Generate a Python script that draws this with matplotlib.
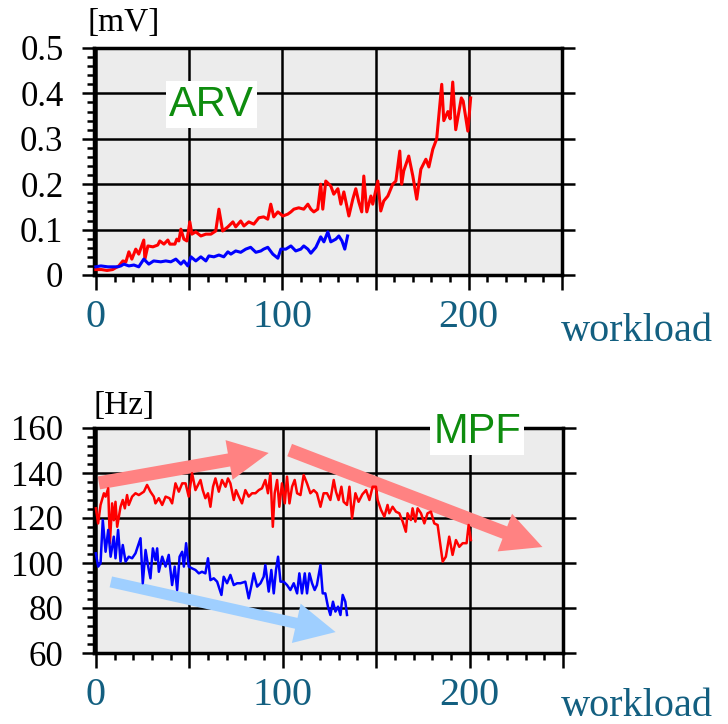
import matplotlib
matplotlib.use("Agg")
import matplotlib.pyplot as plt
from matplotlib.ticker import MultipleLocator, FuncFormatter

# ARV [mV] vs workload
arv_red_x = [0, 3, 6, 9, 12.3, 14.5, 16.1, 17.7, 19.3, 21.4, 23, 25.7, 26.3, 27.9, 30.6, 33.2,
             34.3, 36.5, 38.6, 39.7, 42.4, 43.4, 44.5, 45.6, 47.2, 48.8, 50.4, 51.5, 53.6, 56.3,
             59, 61.7, 64.3, 66, 68, 70.8, 73.5, 75, 77.7, 79.4, 82, 84.7, 87.4, 90, 92.2, 93.8,
             95.4, 97.6, 100.3, 102.9, 104.6, 106.2, 108.8, 111.5, 113.7, 115.3, 116.9, 119,
             120.6, 121.7, 123.3, 126, 127.6, 129.8, 131.4, 133, 135.7, 137.8, 139.4, 141,
             142.6, 143.7, 145.3, 147.5, 148.5, 151.2, 152.8, 154.4, 156.6, 159.2, 160.9, 163,
             164, 165.1, 167.8, 170, 172.1, 174.3, 177, 178.6, 180.7, 182.8, 185.5, 186.6,
             188.8, 190, 191.4, 193, 196, 197, 199.5, 201]
arv_red_y = [0.012, 0.012, 0.01, 0.012, 0.02, 0.031, 0.029, 0.051, 0.035, 0.057, 0.046, 0.077,
             0.035, 0.064, 0.062, 0.066, 0.075, 0.068, 0.077, 0.068, 0.068, 0.079, 0.075, 0.101,
             0.079, 0.075, 0.117, 0.09, 0.095, 0.086, 0.09, 0.09, 0.097, 0.145, 0.097, 0.106,
             0.117, 0.106, 0.119, 0.108, 0.117, 0.112, 0.126, 0.128, 0.123, 0.156, 0.128, 0.139,
             0.13, 0.134, 0.139, 0.145, 0.148, 0.145, 0.156, 0.145, 0.139, 0.145, 0.2, 0.145,
             0.207, 0.196, 0.178, 0.19, 0.156, 0.183, 0.13, 0.167, 0.19, 0.161, 0.139, 0.218,
             0.139, 0.174, 0.156, 0.207, 0.141, 0.163, 0.174, 0.2, 0.207, 0.273, 0.2, 0.229,
             0.262, 0.218, 0.167, 0.233, 0.255, 0.238, 0.277, 0.3, 0.42, 0.34, 0.36, 0.344,
             0.425, 0.32, 0.39, 0.383, 0.317, 0.39]
arv_blue_x = [0, 2.7, 6.4, 11.8, 13.4, 15, 17.7, 20.4, 23, 25.7, 28.4, 31, 34.8, 37.5, 40.2,
              42.9, 45.6, 47.2, 49.3, 51, 53.6, 56.3, 59, 60.6, 63.3, 66, 68.6, 70.8, 72.4, 75,
              77.7, 80.4, 83, 85.8, 88.5, 90, 92.2, 94.9, 97.6, 99.2, 101.9, 104.6, 107.2, 109.9,
              111.5, 113.7, 115.3, 118, 120.6, 122.3, 124.4, 126, 128.7, 130.3, 132, 133.5, 135]
arv_blue_y = [0.018, 0.02, 0.018, 0.018, 0.02, 0.024, 0.02, 0.022, 0.018, 0.035, 0.024, 0.031,
              0.029, 0.031, 0.029, 0.035, 0.024, 0.031, 0.02, 0.04, 0.031, 0.04, 0.031, 0.042,
              0.04, 0.044, 0.04, 0.051, 0.046, 0.053, 0.05, 0.057, 0.061, 0.05, 0.053, 0.057,
              0.061, 0.046, 0.037, 0.057, 0.057, 0.064, 0.053, 0.057, 0.064, 0.057, 0.048, 0.061,
              0.084, 0.073, 0.095, 0.073, 0.079, 0.086, 0.075, 0.057, 0.086]

# MPF [Hz] vs workload
mpf_red_x = [0, 1.2, 2.5, 4.3, 5.2, 6.6, 7.5, 8.7, 9.6, 10.5, 11.4, 13.2, 14.4, 15.5, 16.7, 17.6,
             19.4, 21.2, 23, 25.7, 27.4, 29.2, 31, 31.9, 33.7, 35.5, 37.3, 39.4, 40.8, 42.6, 44.4,
             46.2, 48, 49.7, 51.5, 53.3, 54.7, 56, 57.2, 58.6, 60, 61.3, 62.7, 64, 65.8, 67.5,
             69.4, 70.7, 72, 73.8, 75, 76.5, 78.2, 80, 81.8, 83.6, 85.4, 87.2, 88.9, 90.7, 92.1,
             93.4, 94.7, 95.7, 97, 98.2, 99.6, 101.1, 102.3, 103.6, 105, 106.4, 107.7, 109.5,
             111.2, 113, 114.8, 116.6, 118.3, 120.2, 121.9, 123.7, 125.5, 127.3, 128.5, 129.9,
             131.4, 132.6, 134.4, 135.7, 137.1, 138.9, 140.6, 142.6, 144.6, 146.4, 148.1, 149.9,
             150.8, 152.6, 154.4, 156.1, 157, 158.8, 160.6, 162.4, 164.2, 165.9, 166.8, 168.6,
             169.5, 171, 172.2, 174, 175.8, 177.5, 179.3, 181.1, 182.9, 185.6, 187.3, 189.1,
             190.9, 192.7, 194.5, 196.3, 198.4, 199.5, 200.7]
mpf_red_y = [124.3, 117.6, 125.8, 131, 129.5, 133.2, 108.8, 126.5, 119, 127.2, 116.1, 125, 128,
             124.3, 130.2, 125.8, 129.5, 131, 130.2, 131.7, 134.7, 131.7, 129.5, 126.5, 128.8,
             125.8, 129.5, 128.8, 126.5, 135.4, 131.7, 135.4, 135.4, 129.5, 139.9, 132.4, 134.7,
             136.9, 132.4, 128.8, 131, 125, 133.9, 137.6, 131.7, 136.9, 133.9, 137.6, 135.4, 128,
             132.4, 129.5, 126.5, 132.4, 129.5, 131, 131, 132.4, 133.2, 136.9, 131, 139.9, 116.1,
             131, 136.9, 125, 135.4, 126.5, 138.4, 126.5, 133.9, 136.9, 131, 130.2, 139.1, 135.4,
             131, 132.4, 131, 125, 131, 131, 128, 136.9, 131.7, 128, 133.9, 127.2, 125.8, 133.9,
             119.9, 131, 127.2, 130.5, 132.4, 128, 133.9, 133.9, 128, 123.6, 120.6, 125.8, 122.1,
             125, 122.8, 122.1, 118.4, 113.9, 122.1, 119.1, 124.3, 118.4, 124.3, 122.1, 117.6,
             122.1, 122.8, 117.6, 116.9, 100.6, 102.8, 111.7, 103.6, 110.2, 107.2, 108.8, 108.8,
             116.9, 110.2]
mpf_blue_x = [0, 1.2, 2.5, 3.7, 5.2, 6.6, 7.9, 9.6, 10.5, 11.9, 13.2, 14.4, 15.9, 17.6, 19.4,
              21.2, 23.9, 25.1, 26.6, 28, 29.2, 30.5, 31.9, 32.8, 33.7, 35.5, 37.3, 39, 40.8,
              42.2, 43.5, 44.8, 46.2, 47.1, 48.3, 49.7, 51.5, 53.3, 55.1, 56.8, 58.6, 60, 61.3,
              63.1, 64.9, 67.2, 68.4, 70.2, 72, 73.8, 75.6, 77.4, 80, 81.8, 83.3, 84.5, 86.3,
              88.1, 89.8, 90.7, 92.5, 93.9, 95.2, 96.4, 97.5, 98.8, 100.5, 102.3, 104.1, 105.9,
              107.7, 108.9, 110.3, 111.8, 113, 114.3, 115.7, 117.1, 118.3, 120.2, 121.4, 122.8,
              124.2, 125.5, 126.9, 128.2, 129.6, 130.9, 132.1, 133.5, 134.4]
mpf_blue_y = [104.3, 98.4, 99.9, 119.1, 105, 114.7, 102.8, 111.7, 102.1, 114.7, 100.6, 108,
              100.6, 102.8, 102.1, 104.3, 111, 91, 105.8, 98.4, 93.2, 106.5, 101.3, 106.5, 96.1,
              102.8, 98.4, 103.6, 90.2, 98.4, 88, 102.8, 105, 98.4, 108.8, 98.4, 97.6, 96.9,
              95.4, 96.1, 95.4, 102.1, 92.4, 93.2, 91.7, 85.8, 93.9, 91, 94.7, 90.2, 91, 91,
              91.7, 84.3, 90.2, 95.4, 89.5, 91, 93.9, 99.1, 87.3, 96.9, 86.5, 96.9, 102.8, 91.7,
              91.7, 90.2, 88, 91, 86.5, 95.4, 86.5, 95.4, 86.5, 95.4, 91, 88, 90.2, 99.1, 86.5,
              86.5, 80.6, 76.9, 82.8, 78.4, 80.6, 76.9, 85.8, 82.8, 76.9]

# trend arrows on the MPF panel: (tail x, tail y, head x, head y)
mpf_rise = (1.6, 135.6, 92.5, 148.9)
mpf_fall = (103.7, 150.2, 239.0, 107.1)
blue_fall = (8.0, 91.6, 128.3, 69.3)

xlabels_shown = [0, 100, 200]
teal = '#135f80'
green = '#0e8c0e'
serif = 'Liberation Serif'


def style_axes(ax, ylim, ymajor, yminor, yfmt):
    ax.set_facecolor('#ececec')
    ax.set_xlim(-1, 250)
    ax.set_ylim(*ylim)
    ax.xaxis.set_major_locator(MultipleLocator(50))
    ax.xaxis.set_minor_locator(MultipleLocator(10))
    ax.yaxis.set_major_locator(MultipleLocator(ymajor))
    ax.yaxis.set_minor_locator(MultipleLocator(yminor))
    ax.xaxis.set_major_formatter(
        FuncFormatter(lambda v, p: '%d' % round(v) if round(v) in xlabels_shown else ''))
    ax.yaxis.set_major_formatter(FuncFormatter(yfmt))
    ax.set_axisbelow(True)
    ax.grid(True, which='major', color='black', lw=1.8)
    for s in ax.spines.values():
        s.set_linewidth(2.5)
    ax.tick_params(axis='x', which='major', direction='out', length=11, width=1.8,
                   pad=6, labelsize=29, labelcolor=teal)
    ax.tick_params(axis='x', which='minor', direction='out', length=5, width=1.8)
    ax.tick_params(axis='y', which='major', direction='out', length=9, width=1.8,
                   pad=13, labelsize=25, right=True)
    ax.tick_params(axis='y', which='minor', direction='out', length=5, width=1.8)
    for lab in ax.get_xticklabels() + ax.get_yticklabels():
        lab.set_fontfamily(serif)


def draw_arrow(ax, spec, color, tail_w):
    ax.annotate('', xy=(spec[2], spec[3]), xytext=(spec[0], spec[1]),
                arrowprops=dict(arrowstyle='simple,head_length=2.9,head_width=2.9,tail_width=%.2f' % tail_w,
                                mutation_scale=10, color=color, lw=0,
                                shrinkA=0, shrinkB=0),
                zorder=2, annotation_clip=False)


fig = plt.figure(figsize=(7.28, 7.24), dpi=100)
ax1 = fig.add_axes([94 / 728, 1 - 275 / 724, 468 / 728, 227 / 724])
ax2 = fig.add_axes([94 / 728, 1 - 653 / 724, 469 / 728, 225 / 724])

# top: ARV
style_axes(ax1, (0, 0.5), 0.1, 0.02, lambda v, p: '0' if abs(v) < 1e-9 else '%.1f' % v)
ax1.plot(arv_red_x, arv_red_y, color='#ff0000', lw=2.2, zorder=3)
ax1.plot(arv_blue_x, arv_blue_y, color='#0000ff', lw=2.2, zorder=3)
ax1.text(62, 0.375, 'ARV', fontsize=30, color=green, family='Liberation Sans',
         ha='center', va='center', zorder=5,
         bbox=dict(boxstyle='square,pad=0.08', fc='white', ec='none'))

# bottom: MPF
style_axes(ax2, (60, 160), 20, 4, lambda v, p: '%d' % round(v))
draw_arrow(ax2, mpf_rise, '#ff8282', 0.95)
draw_arrow(ax2, mpf_fall, '#ff8282', 0.95)
draw_arrow(ax2, blue_fall, '#9fcfff', 0.8)
ax2.plot(mpf_red_x, mpf_red_y, color='#ff0000', lw=1.8, zorder=3)
ax2.plot(mpf_blue_x, mpf_blue_y, color='#0000ff', lw=1.8, zorder=3)
ax2.text(204, 158.2, 'MPF', fontsize=30, color=green, family='Liberation Sans',
         ha='center', va='center', zorder=5, clip_on=False,
         bbox=dict(boxstyle='square,pad=0.08', fc='white', ec='none'))

# units and x-axis names
fig.text(88 / 728, 1 - 23 / 724, '[mV]', fontsize=24, family=serif, va='center')
fig.text(93 / 728, 1 - 406 / 724, '[Hz]', fontsize=24, family=serif, va='center')
fig.text(561 / 728, 1 - 341 / 724, 'workload', fontsize=29, family=serif,
         color=teal, va='baseline')
fig.text(561 / 728, 1 - 716 / 724, 'workload', fontsize=29, family=serif,
         color=teal, va='baseline')

fig.savefig('out.png', dpi=100)
